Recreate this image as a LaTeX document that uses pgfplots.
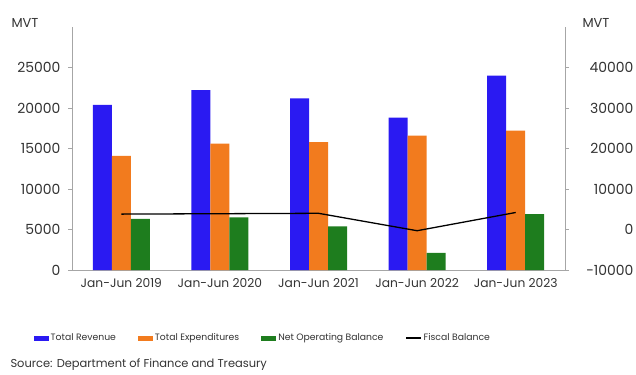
\documentclass[border=0pt]{standalone}
\usepackage{pgfplots}
\pgfplotsset{compat=1.18}
\usepackage{fontspec}
\setmainfont{Poppins}
\definecolor{cblue}{HTML}{2A1AF2}
\definecolor{corange}{HTML}{F27B1E}
\definecolor{cgreen}{HTML}{1E7D1E}
\definecolor{caxis}{HTML}{A6A6A6}
\definecolor{ctext}{HTML}{333333}
\pgfplotstableread{
x rev exp nob
0 20400 14100 6300
1 22200 15600 6500
2 21200 15800 5400
3 18800 16600 2100
4 24000 17200 6900
}\fiscal
\pgfplotstableread{
x fb
0 3800
1 3900
2 4000
3 -300
4 4200
}\fbal
\begin{document}
\begin{tikzpicture}[x=1bp,y=1bp]
\useasboundingbox (0,0) rectangle (636,374);
\begin{axis}[
  at={(72bp,104bp)}, anchor=south west, scale only axis,
  width=493bp, height=243bp,
  xmin=-0.5, xmax=4.5, ymin=0, ymax=30000,
  axis x line*=bottom, axis y line*=left,
  axis line style={draw=caxis, line width=0.8pt, -},
  xtick={0,...,4},
  xticklabels={Jan-Jun 2019,Jan-Jun 2020,Jan-Jun 2021,Jan-Jun 2022,Jan-Jun 2023},
  x tick label style={font=\fontsize{12.3}{14}\selectfont, text=ctext, yshift=-1bp},
  major x tick style={draw=none},
  extra x ticks={0.5,1.5,2.5,3.5},
  extra x tick labels={},
  extra x tick style={major tick length=4bp, tick style={draw=caxis, line width=0.8pt}, tick align=outside},
  ytick={0,5000,10000,15000,20000,25000},
  scaled y ticks=false,
  /pgf/number format/1000 sep={},
  /pgf/number format/assume math mode=true,
  y tick label style={font=\fontsize{14}{16}\selectfont, text=ctext, xshift=-4bp},
  major y tick style={draw=caxis, line width=0.8pt},
  tick align=outside, major tick length=4bp,
  ybar=0pt, bar width=19bp,
  legend columns=4,
  legend style={at={(0.387,-0.28)}, anchor=center, draw=none, fill=none,
    font=\fontsize{9.3}{11}\selectfont, text=ctext,
    /tikz/every even column/.append style={column sep=20bp},
    inner sep=0pt},
  legend cell align=left,
]
\addplot[fill=cblue, draw=none, legend image code/.code={\fill[cblue] (0bp,-2.5bp) rectangle (15bp,2.5bp);}] table[x=x,y=rev] {\fiscal};
\addlegendentry{Total Revenue}
\addplot[fill=corange, draw=none, legend image code/.code={\fill[corange] (0bp,-2.5bp) rectangle (15bp,2.5bp);}] table[x=x,y=exp] {\fiscal};
\addlegendentry{Total Expenditures}
\addplot[fill=cgreen, draw=none, legend image code/.code={\fill[cgreen] (0bp,-2.5bp) rectangle (15bp,2.5bp);}] table[x=x,y=nob] {\fiscal};
\addlegendentry{Net Operating Balance}
\addlegendimage{black, line width=1.2pt, legend image code/.code={\draw[black, line width=1.2pt] (0bp,0bp) -- (15bp,0bp);}}
\addlegendentry{Fiscal Balance}
\end{axis}
\begin{axis}[
  at={(72bp,104bp)}, anchor=south west, scale only axis,
  width=493bp, height=243bp,
  xmin=-0.5, xmax=4.5, ymin=-10000, ymax=50000,
  axis x line=none, axis y line*=right,
  axis line style={draw=caxis, line width=0.8pt, -},
  ytick={-10000,0,10000,20000,30000,40000},
  scaled y ticks=false,
  /pgf/number format/1000 sep={},
  /pgf/number format/assume math mode=true,
  y tick label style={font=\fontsize{14}{16}\selectfont, text=ctext, anchor=east, xshift=68bp},
  major y tick style={draw=caxis, line width=0.8pt},
  tick align=outside, major tick length=4bp,
]
\addplot[black, line width=1.3pt, mark=none] table[x=x,y=fb] {\fbal};
\end{axis}
\node[font=\fontsize{13}{15}\selectfont, text=ctext] at (25,351) {MVT};
\node[font=\fontsize{13}{15}\selectfont, text=ctext] at (596,351) {MVT};
\node[anchor=west, font=\fontsize{11.5}{13}\selectfont, text=ctext] at (7,9) {Source: Department of Finance and Treasury};
\end{tikzpicture}
\end{document}
